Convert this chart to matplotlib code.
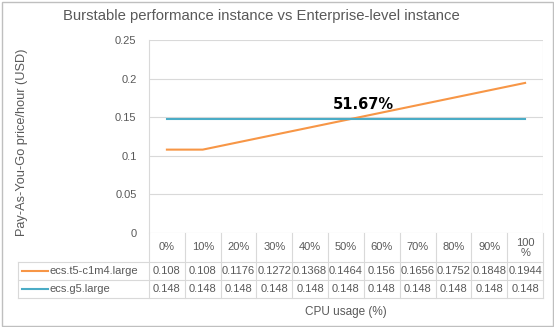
import matplotlib.pyplot as plt
from matplotlib.lines import Line2D
from matplotlib.patches import Rectangle

plt.rcParams['font.family'] = ['Liberation Sans', 'DejaVu Sans']

# data
cpu_labels = ["0%", "10%", "20%", "30%", "40%", "50%", "60%", "70%", "80%", "90%", "100\n%"]
t5_price = [0.108, 0.108, 0.1176, 0.1272, 0.1368, 0.1464, 0.156, 0.1656, 0.1752, 0.1848, 0.1944]
g5_price = [0.148] * 11
series_names = ["ecs.t5-c1m4.large", "ecs.g5.large"]
series_colors = ["#F79646", "#4BACC6"]
y_ticks = [0, 0.05, 0.1, 0.15, 0.2, 0.25]
y_tick_labels = ["0", "0.05", "0.1", "0.15", "0.2", "0.25"]
cross_label = "51.67%"

W, H = 554, 327
text_col = "#595959"
grid_col = "#D9D9D9"


def fx(px):
    return px / W


def fy(py):
    return 1 - py / H


def hline(x0, x1, y):
    fig.add_artist(Line2D([fx(x0), fx(x1)], [fy(y), fy(y)], color=grid_col, lw=0.8))


def vline(x, y0, y1):
    fig.add_artist(Line2D([fx(x), fx(x)], [fy(y0), fy(y1)], color=grid_col, lw=0.8))


fig = plt.figure(figsize=(W / 100, H / 100), dpi=100)
# outer chart frame
fig.add_artist(Rectangle((fx(1.5), fy(325.5)), fx(551), 324 / H,
                         fill=False, edgecolor="#BFBFBF", lw=1, transform=fig.transFigure))

left, right, top, bottom = 149, 543, 40, 233
ax = fig.add_axes([fx(left), fy(bottom), fx(right - left), (bottom - top) / H])

x = list(range(len(cpu_labels)))
ax.plot(x, t5_price, color=series_colors[0], lw=1.5)
ax.plot(x, g5_price, color=series_colors[1], lw=1.5)

ax.set_xlim(-0.5, len(x) - 0.5)
ax.set_ylim(0, 0.25)
ax.set_yticks(y_ticks)
ax.set_yticklabels(y_tick_labels, fontsize=8, color=text_col)
ax.set_xticks([])
ax.tick_params(axis="y", length=0, pad=9)
ax.grid(axis="y", color=grid_col, lw=0.8)
ax.set_axisbelow(True)
for s in ["top", "bottom", "right"]:
    ax.spines[s].set_visible(False)
ax.spines["left"].set_color(grid_col)
ax.spines["left"].set_linewidth(0.8)
ax.axvline(len(x) - 0.5, color=grid_col, lw=0.8)

ax.text(5.49, 0.167, cross_label, ha="center", va="center", fontsize=10.5,
        fontweight="bold", family="DejaVu Sans", color="black")

fig.text(fx(261), fy(16), "Burstable performance instance vs Enterprise-level instance",
         ha="center", va="center", fontsize=10.7, color=text_col)
fig.text(fx(22), fy(142), "Pay-As-You-Go price/hour (USD)", rotation=90,
         ha="center", va="center", fontsize=9.2, color=text_col)
fig.text(fx((left + right) / 2), fy(312), "CPU usage (%)",
         ha="center", va="center", fontsize=8.5, color=text_col)

# data table below the plot
cw = (right - left) / len(x)
row_y = [bottom, 262, 280, 298]
leg_left = 18
for i in range(len(x) + 1):
    vline(left + i * cw, bottom, row_y[-1])
vline(leg_left, row_y[1], row_y[-1])
hline(leg_left, right, row_y[1])
hline(leg_left, right, row_y[2])
hline(leg_left, right, row_y[3])

for i, lab in enumerate(cpu_labels):
    cx = left + (i + 0.5) * cw
    fig.text(fx(cx), fy((row_y[0] + row_y[1]) / 2), lab, ha="center", va="center",
             fontsize=8, color=text_col, linespacing=1.0)
    fig.text(fx(cx), fy((row_y[1] + row_y[2]) / 2), f"{t5_price[i]:g}", ha="center",
             va="center", fontsize=8, color=text_col)
    fig.text(fx(cx), fy((row_y[2] + row_y[3]) / 2), f"{g5_price[i]:g}", ha="center",
             va="center", fontsize=8, color=text_col)

for r, (name, col) in enumerate(zip(series_names, series_colors)):
    yc = (row_y[r + 1] + row_y[r + 2]) / 2
    fig.add_artist(Line2D([fx(22), fx(48)], [fy(yc), fy(yc)], color=col, lw=1.5))
    fig.text(fx(50), fy(yc), name, ha="left", va="center", fontsize=8, color=text_col)

fig.savefig("out.png", dpi=100)
